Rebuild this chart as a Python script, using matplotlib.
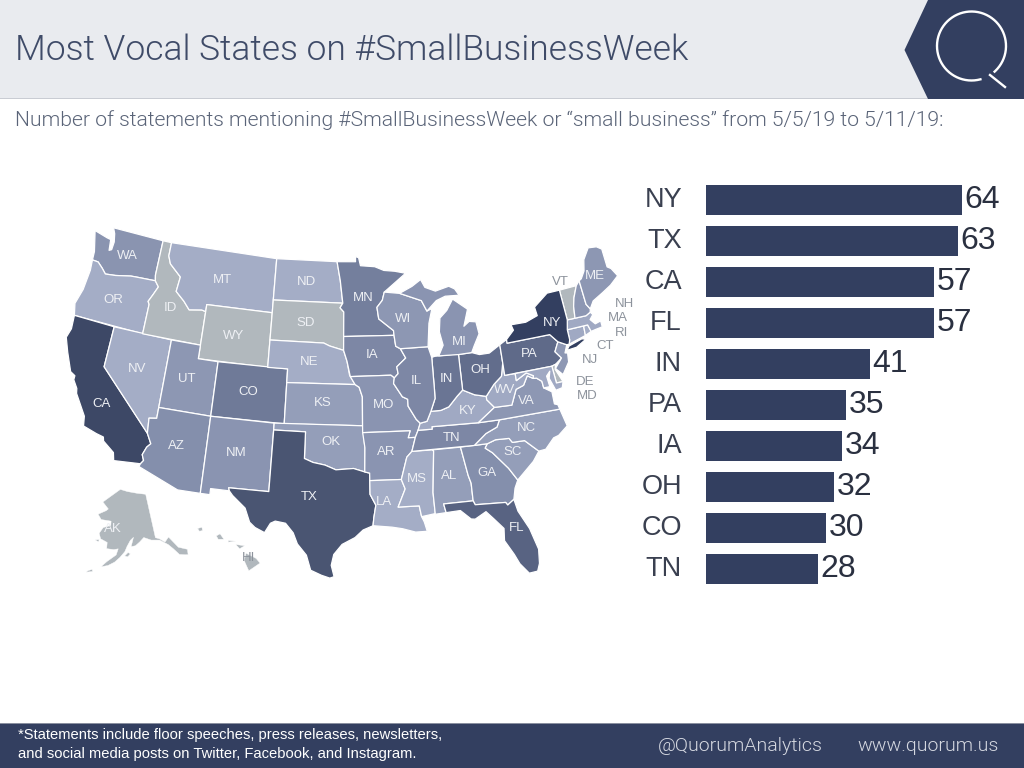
import numpy as np
from matplotlib import pyplot as plt
from matplotlib.patches import Polygon, Rectangle

NAVY = "#333f60"
GREY_STATE = "#b1b8bd"

# Bar chart data
bar_states = ["NY", "TX", "CA", "FL", "IN", "PA", "IA", "OH", "CO", "TN"]
bar_values = [64, 63, 57, 57, 41, 35, 34, 32, 30, 28]

# State outlines, lon/lat
WA = [(-124.7,48.4),(-123.2,48.15),(-122.75,48.1),(-122.6,47.3),(-122.35,47.4),(-122.3,48.0),(-122.5,48.6),(-122.8,49.0),(-117.03,49.0),(-117.04,46.4),(-116.92,45.99),(-119.0,45.93),(-119.6,45.9),(-121.2,45.65),(-122.3,45.55),(-122.8,45.9),(-123.4,46.25),(-124.05,46.27),(-124.1,46.9)]
OR = [(-124.05,46.27),(-123.4,46.25),(-122.8,45.9),(-122.3,45.55),(-121.2,45.65),(-119.6,45.9),(-119.0,45.93),(-116.92,45.99),(-116.46,45.6),(-116.85,44.95),(-117.2,44.4),(-117.03,44.2),(-117.03,42.0),(-124.2,42.0),(-124.5,42.85),(-124.1,44.0),(-123.95,45.5)]
CA = [(-124.2,42),(-120,42),(-120,39),(-114.63,35.0),(-114.14,34.3),(-114.45,34.0),(-114.72,33.4),(-114.5,33.0),(-114.72,32.72),(-117.12,32.53),(-117.3,33.1),(-118.4,33.75),(-118.5,34.03),(-119.2,34.15),(-120.5,34.45),(-120.65,35.15),(-121.9,36.6),(-122.0,36.95),(-122.5,37.5),(-122.5,37.8),(-123.0,38.0),(-123.8,39.3),(-124.35,40.3),(-124.1,41.0)]
NV = [(-120,42),(-114.04,42),(-114.04,36.2),(-114.75,36.1),(-114.63,35.0),(-120,39)]
ID = [(-117.03,44.2),(-117.03,42),(-111.05,42),(-111.05,44.48),(-111.5,44.55),(-112.8,44.4),(-113.5,44.95),(-114.5,45.55),(-114.35,46.65),(-115.7,47.45),(-116.05,48.0),(-116.05,49),(-117.03,49),(-117.04,46.4),(-116.92,45.99),(-116.46,45.6),(-116.85,44.95),(-117.2,44.4)]
MT = [(-116.05,49),(-104.05,49),(-104.05,45),(-111.05,45),(-111.05,44.48),(-111.5,44.55),(-112.8,44.4),(-113.5,44.95),(-114.5,45.55),(-114.35,46.65),(-115.7,47.45),(-116.05,48)]
WY = [(-111.05,45),(-104.05,45),(-104.05,41),(-111.05,41)]
UT = [(-114.04,42),(-111.05,42),(-111.05,41),(-109.05,41),(-109.05,37),(-114.04,37)]
CO = [(-109.05,41),(-102.05,41),(-102.05,37),(-109.05,37)]
AZ = [(-114.04,37),(-109.05,37),(-109.05,31.33),(-111.07,31.33),(-114.81,32.5),(-114.72,32.72),(-114.5,33.0),(-114.72,33.4),(-114.45,34),(-114.14,34.3),(-114.63,35),(-114.75,36.1),(-114.04,36.2)]
NM = [(-109.05,37),(-103,37),(-103.04,32),(-106.62,32),(-106.53,31.78),(-108.2,31.78),(-108.2,31.33),(-109.05,31.33)]
ND = [(-104.05,49),(-97.23,49),(-96.85,47.6),(-96.56,45.94),(-104.05,45.94)]
SD = [(-104.05,45.94),(-96.56,45.94),(-96.85,45.6),(-96.45,45.3),(-96.45,43.5),(-96.45,42.49),(-97.9,42.8),(-98.5,43.0),(-104.05,43)]
NE = [(-104.05,43),(-98.5,43),(-97.9,42.8),(-96.45,42.49),(-96.1,41.7),(-95.85,40.7),(-95.3,40),(-102.05,40),(-102.05,41),(-104.05,41)]
KS = [(-102.05,40),(-95.3,40),(-94.9,39.8),(-94.6,39.1),(-94.62,37),(-102.05,37)]
OK = [(-103,37),(-94.62,37),(-94.43,35.4),(-94.48,33.64),(-95.5,33.9),(-97.1,33.8),(-98.1,34.13),(-99.2,34.3),(-100,34.56),(-100,36.5),(-103,36.5)]
TX = [(-103,36.5),(-100,36.5),(-100,34.56),(-99.2,34.3),(-98.1,34.13),(-97.1,33.8),(-95.5,33.9),(-94.48,33.64),(-94.04,33.55),(-94.04,33.0),(-94.04,32),(-93.55,31.2),(-93.75,30.3),(-93.84,29.7),(-94.7,29.4),(-95.4,28.85),(-96.5,28.35),(-97.2,27.6),(-97.4,26.8),(-97.15,25.96),(-97.5,25.85),(-98.2,26.05),(-99.1,26.4),(-99.5,27.5),(-100.3,28.3),(-100.7,29.1),(-101.4,29.77),(-102.3,29.88),(-102.7,29.7),(-103.15,28.98),(-104.0,29.3),(-104.5,29.65),(-105,30.65),(-106.2,31.47),(-106.53,31.78),(-106.62,32),(-103.04,32)]
MN = [(-97.23,49),(-95.15,49),(-95.15,49.38),(-94.8,49.3),(-94.6,48.7),(-93.0,48.6),(-92,48.3),(-90.8,48.2),(-89.6,48.0),(-92.05,46.7),(-92.3,46.1),(-92.9,45.6),(-92.75,44.75),(-91.25,43.85),(-91.22,43.5),(-96.45,43.5),(-96.45,45.3),(-96.85,45.6),(-96.56,45.94),(-96.85,47.6)]
IA = [(-96.45,43.5),(-91.22,43.5),(-91.1,42.7),(-90.64,42.5),(-90.15,41.8),(-91.1,41.2),(-91.0,40.7),(-91.4,40.4),(-91.73,40.61),(-95.77,40.58),(-96.1,41.7),(-96.45,42.49)]
MO = [(-95.77,40.58),(-91.73,40.61),(-91.4,40.4),(-91.5,40.0),(-90.7,39.0),(-90.2,38.8),(-90.2,38.3),(-89.5,37.3),(-89.15,37.0),(-89.4,36.5),(-89.7,36.0),(-90.37,36.0),(-90.15,36.5),(-94.62,36.5),(-94.62,37),(-94.6,39.1),(-94.9,39.8),(-95.3,40)]
AR = [(-94.62,36.5),(-90.15,36.5),(-90.37,36.0),(-89.7,36.0),(-90.1,35.0),(-90.6,34.6),(-91.2,33.0),(-94.04,33.0),(-94.04,33.55),(-94.48,33.64),(-94.43,35.4)]
LA = [(-94.04,33),(-91.2,33),(-90.9,32.3),(-91.6,31.0),(-89.75,31.0),(-89.6,30.2),(-89.4,29.8),(-89.2,29.1),(-90.2,29.1),(-91.3,29.4),(-92.2,29.55),(-93.84,29.7),(-93.75,30.3),(-93.55,31.2),(-94.04,32)]
MS = [(-90.1,35),(-88.2,35),(-88.1,34.9),(-88.45,31.9),(-88.4,30.35),(-89.6,30.2),(-89.75,31),(-91.6,31),(-90.9,32.3),(-91.2,33),(-90.6,34.6)]
AL = [(-88.2,35),(-85.6,35),(-85.18,32.87),(-85.0,32.3),(-85.0,31.0),(-87.6,31.0),(-87.45,30.35),(-88.4,30.3),(-88.45,31.9),(-88.1,34.9)]
GA = [(-85.6,35),(-83.1,35),(-83.35,34.7),(-82.75,34.3),(-81.5,33.0),(-80.85,32.05),(-81.2,31.5),(-81.45,30.7),(-82.05,30.36),(-82.2,30.57),(-84.86,30.7),(-85,31),(-85,32.3),(-85.18,32.87)]
FL = [(-87.6,31),(-85,31),(-84.86,30.7),(-82.2,30.57),(-82.05,30.36),(-81.45,30.7),(-81.25,29.8),(-80.5,28.4),(-80.03,26.8),(-80.15,25.75),(-80.4,25.2),(-81.1,25.15),(-81.75,25.95),(-82.1,26.7),(-82.75,27.8),(-82.65,28.7),(-83.4,29.5),(-84.0,30.1),(-85.0,29.65),(-85.35,29.7),(-86.2,30.4),(-87.45,30.35)]
SC = [(-83.1,35),(-82.3,35.2),(-81.05,35.15),(-80.8,34.82),(-79.67,34.8),(-78.55,33.86),(-79.2,33.2),(-80.85,32.05),(-81.5,33),(-82.75,34.3),(-83.35,34.7)]
NC = [(-84.32,35),(-83.1,35),(-82.3,35.2),(-81.05,35.15),(-80.8,34.82),(-79.67,34.8),(-78.55,33.86),(-77.9,33.9),(-77.0,34.6),(-76.5,34.7),(-75.55,35.25),(-75.9,36.55),(-81.68,36.59),(-82.0,36.1),(-83.1,35.75)]
TN = [(-90.1,35),(-84.32,35),(-83.1,35.75),(-82,36.1),(-81.68,36.59),(-83.68,36.6),(-88.07,36.68),(-88.07,36.5),(-89.4,36.5),(-89.7,36)]
KY = [(-89.4,36.5),(-88.07,36.5),(-88.07,36.68),(-83.68,36.6),(-81.97,37.54),(-82.6,38.17),(-82.6,38.42),(-83.7,38.65),(-84.8,39.1),(-85.4,38.7),(-86.3,38.0),(-87.1,37.8),(-88.05,37.8),(-88.5,37.1),(-89.15,37)]
VA = [(-83.68,36.6),(-81.68,36.59),(-75.9,36.55),(-76.0,36.9),(-76.3,37.0),(-76.3,37.9),(-77.0,38.3),(-77.05,38.8),(-77.5,39.1),(-77.83,39.13),(-78.35,39.4),(-78.87,38.77),(-79.65,38.58),(-80.3,37.5),(-81.97,37.54)]
WV = [(-81.97,37.54),(-80.3,37.5),(-79.65,38.58),(-78.87,38.77),(-78.35,39.4),(-77.83,39.13),(-77.75,39.32),(-78.4,39.62),(-79.48,39.2),(-79.48,39.72),(-80.52,39.72),(-80.52,40.64),(-80.85,39.7),(-81.7,39.2),(-82.6,38.42),(-82.6,38.17)]
OH = [(-84.8,39.1),(-83.7,38.65),(-82.6,38.42),(-81.7,39.2),(-80.85,39.7),(-80.52,40.64),(-80.52,41.98),(-81.7,41.5),(-82.7,41.5),(-83.45,41.72),(-84.8,41.7)]
IN = [(-88.05,37.8),(-87.1,37.8),(-86.3,38),(-85.4,38.7),(-84.8,39.1),(-84.8,41.76),(-86.8,41.76),(-87.2,41.76),(-87.52,41.7),(-87.53,39.35),(-87.55,38.7)]
IL = [(-91.5,40),(-91.4,40.4),(-91.0,40.7),(-91.1,41.2),(-90.15,41.8),(-90.64,42.5),(-87.8,42.5),(-87.52,41.7),(-87.53,39.35),(-87.55,38.7),(-88.05,37.8),(-88.5,37.1),(-89.15,37),(-89.5,37.3),(-90.2,38.3),(-90.2,38.8),(-90.7,39)]
WI = [(-92.05,46.7),(-90.4,46.55),(-88.1,45.9),(-87.6,45.1),(-87.05,45.25),(-87.5,44.2),(-87.8,42.5),(-90.64,42.5),(-91.1,42.7),(-91.22,43.5),(-91.25,43.85),(-92.75,44.75),(-92.9,45.6),(-92.3,46.1)]
MI_LOWER = [(-84.8,41.7),(-83.45,41.72),(-83.1,42.2),(-82.45,43.0),(-82.6,43.9),(-83.3,44.0),(-83.9,43.7),(-83.3,44.9),(-84.75,45.78),(-85.5,45.0),(-86.3,44.5),(-86.5,43.5),(-86.25,42.5),(-86.8,41.76)]
MI_UPPER = [(-90.4,46.55),(-89,47.0),(-88,47.45),(-87.6,46.85),(-86.5,46.5),(-85,46.75),(-84.4,46.5),(-84,46),(-85.5,46.05),(-86.5,45.8),(-87.6,45.1),(-88.1,45.9)]
PA = [(-80.52,39.72),(-75.8,39.72),(-75.4,39.8),(-74.7,40.15),(-75.2,40.7),(-74.7,41.36),(-75.35,42.0),(-79.76,42.0),(-79.76,42.27),(-80.52,41.98)]
NY = [(-79.76,42),(-75.35,42),(-74.7,41.36),(-73.9,41.0),(-73.65,41.0),(-73.5,41.3),(-73.5,42.05),(-73.27,42.75),(-73.35,45.0),(-74.7,45.0),(-76.3,44.2),(-76.2,43.55),(-77.5,43.25),(-79.05,43.27),(-78.9,42.85),(-79.76,42.27)]
LONG_ISLAND = [(-74.0,40.6),(-73.7,40.87),(-72.3,41.15),(-71.9,41.05),(-73.0,40.65)]
NJ = [(-74.7,41.36),(-73.9,41.0),(-74.25,40.45),(-74.0,40.4),(-74.1,39.75),(-74.9,38.95),(-75.5,39.5),(-74.7,40.15),(-75.2,40.7)]
DE = [(-75.8,39.72),(-75.4,39.8),(-75.55,39.45),(-75.05,38.45),(-75.7,38.46)]
MD = [(-79.48,39.72),(-75.8,39.72),(-75.7,38.46),(-75.05,38.45),(-75.25,38.03),(-75.9,37.95),(-76.3,38.9),(-76.1,39.4),(-76.5,39.1),(-76.4,38.3),(-77.0,38.3),(-77.05,38.8),(-77.5,39.1),(-77.83,39.13),(-77.75,39.32),(-78.4,39.62),(-79.48,39.2)]
CT = [(-73.65,41),(-71.86,41.32),(-71.8,42.02),(-73.5,42.05),(-73.5,41.3)]
RI = [(-71.86,41.32),(-71.2,41.5),(-71.38,42.02),(-71.8,42.02)]
MA = [(-73.5,42.05),(-71.38,42.02),(-71.2,41.5),(-70.7,41.55),(-70,41.6),(-70.0,42.05),(-70.6,41.95),(-71,42.35),(-70.6,42.65),(-70.8,42.87),(-71.3,42.7),(-72.46,42.73),(-73.27,42.75)]
VT = [(-73.27,42.75),(-72.46,42.73),(-72.3,43.6),(-72.05,44.2),(-71.5,45.01),(-73.35,45)]
NH = [(-72.46,42.73),(-71.3,42.7),(-70.8,42.87),(-70.7,43.1),(-71.0,43.5),(-71.08,45.3),(-71.5,45.01),(-72.05,44.2),(-72.3,43.6)]
ME = [(-71.08,45.3),(-71,43.5),(-70.7,43.1),(-70.2,43.6),(-69,44.0),(-68,44.35),(-67,44.85),(-67.45,45.5),(-67.8,45.7),(-67.8,47.07),(-68.3,47.35),(-69.2,47.45),(-70,46.7),(-70.3,45.9),(-70.8,45.4)]

AK_MAIN = [(-141,69.65),(-141,60.3),(-139.5,59.9),(-137.5,58.9),(-135.5,59.7),(-133,57),(-130,55.9),(-130.5,54.8),(-131.5,55.0),(-133.5,55.5),(-135,57),(-136.5,58.2),(-139.5,59.6),(-143,60),(-146,60.8),(-148,60),(-150,59.3),(-151.8,59.2),(-150.5,61.1),(-152,60.5),(-153.5,59.3),(-154.5,58.2),(-156.5,57),(-158.5,56),(-161,55.2),(-163.5,54.8),(-161.5,56),(-158,57.5),(-157.2,58.8),(-159,58.6),(-162,58.7),(-162,60),(-165,60.6),(-166,61.7),(-164.5,63),(-161,63.6),(-161,64.5),(-166,64.6),(-168,65.6),(-164,66.6),(-163,67),(-166.5,68.3),(-163,69.5),(-156.5,71.3),(-152,70.8),(-146,70.2)]
AK_KODIAK = [(-154.6,57.3),(-153.4,57.1),(-152.3,57.7),(-153.2,58.0)]
AK_ALEUTIAN = [(-168.5,53.2),(-166.3,53.6),(-166.6,54.0),(-168.0,53.6)]
AK_NUNIVAK = [(-167.3,60.2),(-165.7,59.9),(-165.6,60.4)]
HI_BIG = [(-155.9,20.25),(-155.1,19.85),(-154.8,19.5),(-155.7,18.95),(-156.05,19.7)]
HI_MAUI = [(-156.7,20.9),(-156.0,20.8),(-156.4,20.58)]
HI_OAHU = [(-158.25,21.55),(-157.95,21.7),(-157.65,21.3),(-158.1,21.3)]
HI_KAUAI = [(-159.75,22.1),(-159.4,22.2),(-159.35,21.95),(-159.6,21.9)]
HI_MOLOKAI = [(-157.3,21.2),(-156.7,21.15),(-157.3,21.08)]

lower48 = [
    (WA, "#8a94b0"), (OR, "#a4adc6"), (CA, "#3d4866"), (NV, "#a4adc6"), (ID, GREY_STATE),
    (MT, "#a4adc6"), (WY, GREY_STATE), (UT, "#8d97b3"), (CO, "#6f7a98"), (AZ, "#848fac"),
    (NM, "#8a94b1"), (ND, "#a4adc6"), (SD, GREY_STATE), (NE, "#a4adc6"), (KS, "#949eb9"),
    (OK, "#949eb9"), (TX, "#4a5572"), (MN, "#747f9d"), (IA, "#7d87a5"), (MO, "#8a94b1"),
    (AR, "#8a94b1"), (LA, "#a4adc6"), (MS, "#a4adc6"), (AL, "#949eb9"), (GA, "#848fac"),
    (FL, "#586382"), (SC, "#949eb9"), (NC, "#949eb9"), (TN, "#7d87a5"), (KY, "#a0a9c3"),
    (VA, "#8d97b3"), (WV, "#a0a9c3"), (OH, "#626d8c"), (IN, "#6a7594"), (IL, "#7d87a5"),
    (WI, "#8d97b3"), (MI_LOWER, "#8a94b1"), (MI_UPPER, "#8a94b1"), (PA, "#5f6a89"),
    (NJ, "#8d97b3"), (DE, GREY_STATE), (MD, "#a0a9c3"), (CT, "#a0a9c3"), (RI, "#a4adc6"),
    (MA, "#a0a9c3"), (VT, GREY_STATE), (NH, "#8d97b3"), (ME, "#8d97b3"), (NY, NAVY),
    (LONG_ISLAND, NAVY),
]
alaska = [AK_MAIN, AK_KODIAK, AK_ALEUTIAN, AK_NUNIVAK]
hawaii = [HI_BIG, HI_MAUI, HI_OAHU, HI_KAUAI, HI_MOLOKAI]

# labels: text, pixel x, pixel y
white_labels = [("WA",127,256),("OR",113,300),("CA",102,404),("NV",137,369),("ID",170,308),("MT",222,280),
                ("WY",234,336),("UT",187,379),("CO",248,392),("AZ",176,446),("NM",236,453),("ND",306,282),
                ("SD",306,323),("NE",309,362),("KS",323,403),("OK",331,442),("TX",309,497),("MN",363,298),
                ("IA",372,355),("MO",384,405),("AR",386,452),("LA",384,502),("WI",403,319),("IL",416,381),
                ("IN",446,379),("MI",459,342),("OH",480,370),("KY",468,411),("TN",452,438),("MS",417,479),
                ("AL",449,476),("GA",487,473),("FL",517,528),("SC",513,452),("NC",526,428),("VA",526,401),
                ("WV",505,390),("PA",529,354),("NY",552,323),("ME",595,276),("AK",113,529)]
grey_labels = [("VT",560,282),("NH",624,304),("MA",618,318),("RI",622,333),("CT",605,346),("NJ",590,360),
               ("DE",585,382),("MD",587,396),("HI",249,558)]


def albers(points, lat1, lat2, lon0, lat0):
    """Conic equal area, returns km."""
    pts = np.radians(np.array(points, dtype=float))
    lat1, lat2, lon0, lat0 = np.radians([lat1, lat2, lon0, lat0])
    n = (np.sin(lat1) + np.sin(lat2)) / 2
    c = np.cos(lat1) ** 2 + 2 * n * np.sin(lat1)
    rho = np.sqrt(c - 2 * n * np.sin(pts[:, 1])) / n
    rho0 = np.sqrt(c - 2 * n * np.sin(lat0)) / n
    theta = n * (pts[:, 0] - lon0)
    return np.column_stack((rho * np.sin(theta), rho0 - rho * np.cos(theta))) * 6371


fig = plt.figure(figsize=(10.24, 7.68), dpi=100)

# page layer in pixel coordinates
page = fig.add_axes([0, 0, 1, 1])
page.set_xlim(0, 1024)
page.set_ylim(768, 0)
page.axis("off")

page.add_patch(Rectangle((0, 0), 1024, 98, color="#e9ebef", lw=0))
page.add_patch(Rectangle((0, 98), 1024, 1, color="#c9ccd3", lw=0))
page.add_patch(Polygon([(928, 0), (904.5, 50), (928, 99), (1024, 99), (1024, 0)], color=NAVY, lw=0))
page.add_patch(Rectangle((0, 724), 1024, 44, color=NAVY, lw=0))
page.add_patch(Rectangle((0, 723), 1024, 1, color="#8a90a0", lw=0))

# Q logo
t = np.radians(np.linspace(75, 408, 200))
page.plot(971.5 + 34.5 * np.cos(t), 46 + 34.5 * np.sin(t), color="#ffffff", lw=1.7)
page.plot([990, 1005], [75, 87], color="#ffffff", lw=1.7)

light = dict(family=["Roboto", "DejaVu Sans"], fontweight=300)
page.text(15, 50, "Most Vocal States on #SmallBusinessWeek", fontsize=25.5, color="#3f4b68",
          va="center", **light)
page.text(15, 120, "Number of statements mentioning #SmallBusinessWeek or \u201csmall business\u201d from 5/5/19 to 5/11/19:",
          fontsize=15.2, color="#5a6478", va="center", **light)

page.text(18, 735, "*Statements include floor speeches, press releases, newsletters,", fontsize=10.6,
          color="#ffffff", va="center", family="Liberation Sans")
page.text(18, 754, "and social media posts on Twitter, Facebook, and Instagram.", fontsize=10.6,
          color="#ffffff", va="center", family="Liberation Sans")
page.text(658, 746, "@QuorumAnalytics", fontsize=14, color="#d5d8e0", va="center", **light)
page.text(857, 746, "www.quorum.us", fontsize=14, color="#d5d8e0", va="center", **light)

# map layer, km through scale limits
SX, X0, SY, Y0 = 0.12, 348, 0.1226, 419
map_ax = fig.add_axes([0, 0, 1, 1])
map_ax.set_xlim((0 - X0) / SX, (1024 - X0) / SX)
map_ax.set_ylim((Y0 - 768) / SY, Y0 / SY)
map_ax.axis("off")
for outline, color in lower48:
    map_ax.add_patch(Polygon(albers(outline, 29.5, 45.5, -96, 37.5), facecolor=color,
                             edgecolor="white", lw=0.9, joinstyle="round"))

# AK and HI insets, placed as offsets from the map center
for outline in alaska:
    xy = albers(outline, 55, 65, -156, 58.5) * 0.35
    xy += [-0.307 * 6371 * 0.94, -0.201 * 6371 * 0.94 + 133]
    xy[:, 0] -= 52
    map_ax.add_patch(Polygon(xy, facecolor=GREY_STATE, edgecolor="white", lw=0.3))
for outline in hawaii:
    xy = albers(outline, 8, 18, -160, 19.9)
    xy += [-0.205 * 6371 * 0.94, -0.212 * 6371 * 0.94 + 133]
    xy[:, 0] -= 52
    map_ax.add_patch(Polygon(xy, facecolor=GREY_STATE, edgecolor="white", lw=0.3))

label_ax = fig.add_axes([0, 0, 1, 1])
label_ax.set_xlim(0, 1024)
label_ax.set_ylim(768, 0)
label_ax.axis("off")
for name, x, y in white_labels:
    label_ax.text(x, y, name, ha="center", va="center", color="#eef0f4", fontsize=9.5, family="Liberation Sans")
for name, x, y in grey_labels:
    label_ax.text(x, y, name, ha="center", va="center", color="#8d939c", fontsize=9.5, family="Liberation Sans")

# bars
bars = fig.add_axes([706 / 1024, 1 - 589.5 / 768, 318 / 1024, 410 / 768])
bars.patch.set_alpha(0)
bars.barh(range(len(bar_values)), bar_values, height=0.71, color=NAVY)
bars.set_xlim(0, 79.5)
bars.set_ylim(len(bar_values) - 0.5, -0.5)
bars.axis("off")
for i, (name, value) in enumerate(zip(bar_states, bar_values)):
    bars.text(value + 0.6, i, str(value), va="center", ha="left", fontsize=23, color="#2a3040",
              family="Liberation Sans")
    bars.text(-6, i, name, va="center", ha="right", fontsize=19.5, color="#3a4050",
              family="Liberation Sans")

fig.savefig("out.png", dpi=100)
